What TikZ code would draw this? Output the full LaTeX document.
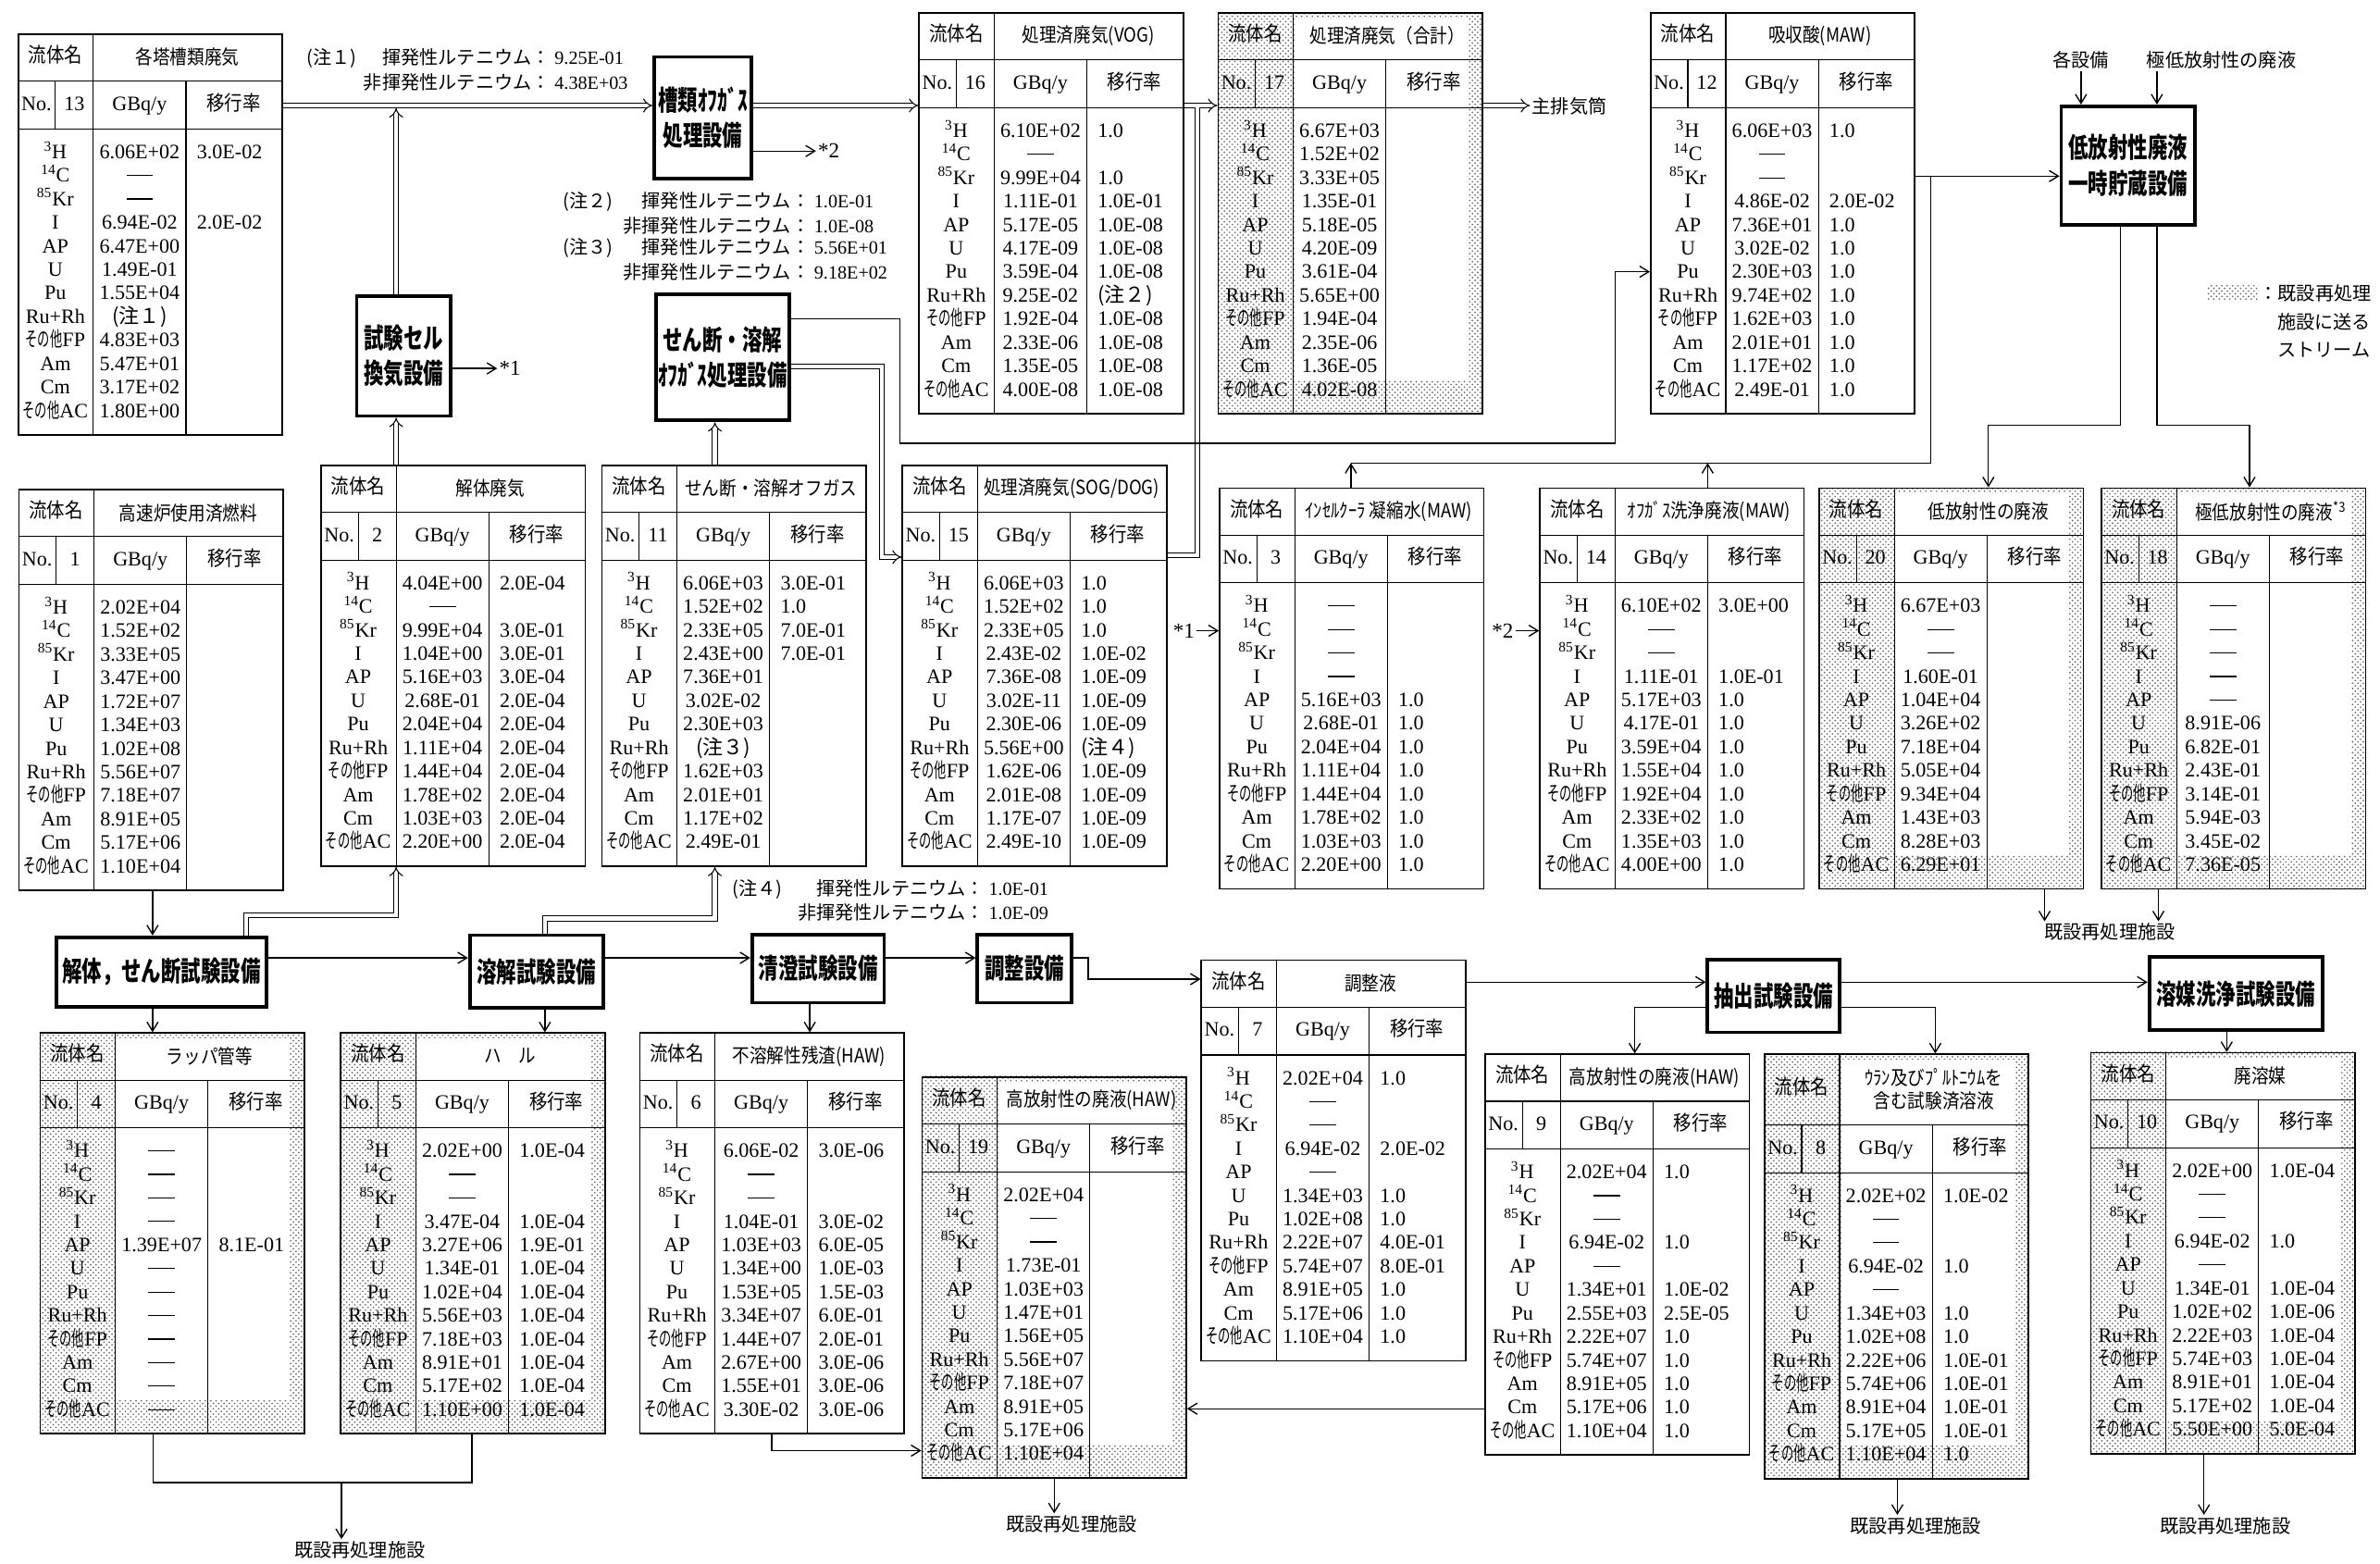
\documentclass[tikz,border=0pt]{standalone}
\usepackage{fontspec}
\setmainfont{Liberation Serif}
\newfontfamily\jpw{Noto Sans CJK JP}
\newfontfamily\jp{Noto Sans CJK JP}[FakeStretch=0.88]
\newfontfamily\jpc{Noto Sans CJK JP}[FakeStretch=0.6]
\newfontfamily\jpt{Noto Sans CJK JP}[FakeStretch=0.72]
\usetikzlibrary{positioning, arrows.meta, patterns}

\newcommand{\boxfont}{\fontsize{15.5}{20}\selectfont\jpt\bfseries}
\newcommand{\tblfont}{\fontsize{11.5}{13}\selectfont}
\newcommand{\titlefont}{\fontsize{11}{13}\selectfont\jp}
\newcommand{\notefont}{\fontsize{10.5}{13}\selectfont}
\newcommand{\dashval}{\rule[0.3em]{1.3em}{0.6pt}}
\newcommand{\nuclist}{\textsuperscript{3}H, \textsuperscript{14}C, \textsuperscript{85}Kr, I, AP, U, Pu, Ru+Rh, {\jpc その他}FP, Am, Cm, {\jpc その他}AC}

% one stream table: [look]{id}{top left}{No.}{name}{name row height}{GBq/y / ratio}
\newcommand{\flowtable}[7][plain]{%
  \begin{scope}[shift={#3}]
    \path[#1] (0,0) rectangle (174,#6+232.5);
    \path[#1 inner] (51,4) rectangle (165,#6+211);
    \draw[tblline] (0,#6) -- (174,#6) (0,#6+31.5) -- (174,#6+31.5)
      (50,0) -- (50,#6+232.5) (111,#6) -- (111,#6+232.5)
      (25,#6) -- (25,#6+31.5);
    \node[tbltext] at (25,#6/2) {\jp 流体名};
    \node[tbltitle] at (112,#6/2) {#5};
    \node[tbltext] at (12.5,#6+15.75) {No.};
    \node[tbltext] at (37.5,#6+15.75) {#4};
    \node[tbltext] at (80.5,#6+15.75) {GBq/y};
    \node[tbltext] at (142.5,#6+15.75) {\jp 移行率};
    \foreach \nuc [count=\i from 0] in \nuclist
      \node[tbltext] at (25,#6+47.5+15.5*\i) {\nuc};
    \foreach \gb/\mr [count=\i from 0] in {#7} {
      \node[tbltext] at (80.5,#6+47.5+15.5*\i) {\gb};
      \node[tbltext, anchor=west] at (118,#6+47.5+15.5*\i) {\mr};
    }
    \node[tblframe, minimum width=52.2mm, minimum height={(#6+232.5)*0.3mm},
      anchor=north west] (#2) at (0,0) {};
  \end{scope}}

\begin{document}
\begin{tikzpicture}[x=0.3mm, y=-0.3mm,
  equip/.style={draw, line width=2pt, fill=white, align=center,
    inner sep=1pt, font=\boxfont},
  tbltext/.style={inner sep=0pt, font=\tblfont, text height=1.6ex, text depth=0.3ex},
  tbltitle/.style={inner sep=0pt, font=\titlefont, align=center},
  tblframe/.style={draw, line width=0.9pt, inner sep=0pt},
  tblline/.style={line width=0.6pt},
  plain/.style={fill=white},
  plain inner/.style={},
  shaded/.style={pattern=crosshatch dots, pattern color=black!60},
  shaded inner/.style={fill=white},
  note/.style={inner sep=1pt, font=\notefont},
  star/.style={inner sep=1pt, font=\fontsize{12}{14}\selectfont},
  dbl/.style={double, double distance=2.2pt, line width=0.55pt},
  dblflow/.style={dbl, -{Implies}},
  flow/.style={line width=0.7pt, -{Straight Barb[length=1.8mm, width=2.2mm]}},
  link/.style={line width=0.7pt},
]
  \fill[white] (0,0) rectangle (1568,1030);
  \useasboundingbox (0,0) rectangle (1568,1030);

  % Top row: off-gas streams
  \flowtable{t13}{(11.5,22)}{13}{各塔槽類廃気}{31.5}{6.06E+02/3.0E-02, \dashval/{}, \dashval/{}, 6.94E-02/2.0E-02, 6.47E+00/{}, 1.49E-01/{}, 1.55E+04/{}, {\jpw (注１)}/{}, 4.83E+03/{}, 5.47E+01/{}, 3.17E+02/{}, 1.80E+00/{}}
  \flowtable{t16}{(605,8)}{16}{処理済廃気(VOG)}{31.5}{6.10E+02/1.0, \dashval/{}, 9.99E+04/1.0, 1.11E-01/1.0E-01, 5.17E-05/1.0E-08, 4.17E-09/1.0E-08, 3.59E-04/1.0E-08, 9.25E-02/{\jpw (注２)}, 1.92E-04/1.0E-08, 2.33E-06/1.0E-08, 1.35E-05/1.0E-08, 4.00E-08/1.0E-08}
  \flowtable[shaded]{t17}{(802,8)}{17}{処理済廃気（合計）}{31.5}{6.67E+03/{}, 1.52E+02/{}, 3.33E+05/{}, 1.35E-01/{}, 5.18E-05/{}, 4.20E-09/{}, 3.61E-04/{}, 5.65E+00/{}, 1.94E-04/{}, 2.35E-06/{}, 1.36E-05/{}, 4.02E-08/{}}
  \flowtable{t12}{(1087,8)}{12}{吸収酸(MAW)}{31.5}{6.06E+03/1.0, \dashval/{}, \dashval/{}, 4.86E-02/2.0E-02, 7.36E+01/1.0, 3.02E-02/1.0, 2.30E+03/1.0, 9.74E+02/1.0, 1.62E+03/1.0, 2.01E+01/1.0, 1.17E+02/1.0, 2.49E-01/1.0}

  % Middle row
  \flowtable{t1}{(12,322)}{1}{高速炉使用済燃料}{31.5}{2.02E+04/{}, 1.52E+02/{}, 3.33E+05/{}, 3.47E+00/{}, 1.72E+07/{}, 1.34E+03/{}, 1.02E+08/{}, 5.56E+07/{}, 7.18E+07/{}, 8.91E+05/{}, 5.17E+06/{}, 1.10E+04/{}}
  \flowtable{t2}{(211,306)}{2}{解体廃気}{31.5}{4.04E+00/2.0E-04, \dashval/{}, 9.99E+04/3.0E-01, 1.04E+00/3.0E-01, 5.16E+03/3.0E-04, 2.68E-01/2.0E-04, 2.04E+04/2.0E-04, 1.11E+04/2.0E-04, 1.44E+04/2.0E-04, 1.78E+02/2.0E-04, 1.03E+03/2.0E-04, 2.20E+00/2.0E-04}
  \flowtable{t11}{(396,306)}{11}{せん断・溶解オフガス}{31.5}{6.06E+03/3.0E-01, 1.52E+02/1.0, 2.33E+05/7.0E-01, 2.43E+00/7.0E-01, 7.36E+01/{}, 3.02E-02/{}, 2.30E+03/{}, {\jpw (注３)}/{}, 1.62E+03/{}, 2.01E+01/{}, 1.17E+02/{}, 2.49E-01/{}}
  \flowtable{t15}{(594,306)}{15}{処理済廃気(SOG/DOG)}{31.5}{6.06E+03/1.0, 1.52E+02/1.0, 2.33E+05/1.0, 2.43E-02/1.0E-02, 7.36E-08/1.0E-09, 3.02E-11/1.0E-09, 2.30E-06/1.0E-09, 5.56E+00/{\jpw (注４)}, 1.62E-06/1.0E-09, 2.01E-08/1.0E-09, 1.17E-07/1.0E-09, 2.49E-10/1.0E-09}
  \flowtable{t3}{(803,321)}{3}{ｲﾝｾﾙｸｰﾗ 凝縮水(MAW)}{31.5}{\dashval/{}, \dashval/{}, \dashval/{}, \dashval/{}, 5.16E+03/1.0, 2.68E-01/1.0, 2.04E+04/1.0, 1.11E+04/1.0, 1.44E+04/1.0, 1.78E+02/1.0, 1.03E+03/1.0, 2.20E+00/1.0}
  \flowtable{t14}{(1014,321)}{14}{ｵﾌｶﾞｽ洗浄廃液(MAW)}{31.5}{6.10E+02/3.0E+00, \dashval/{}, \dashval/{}, 1.11E-01/1.0E-01, 5.17E+03/1.0, 4.17E-01/1.0, 3.59E+04/1.0, 1.55E+04/1.0, 1.92E+04/1.0, 2.33E+02/1.0, 1.35E+03/1.0, 4.00E+00/1.0}
  \flowtable[shaded]{t20}{(1198,321)}{20}{低放射性の廃液}{31.5}{6.67E+03/{}, \dashval/{}, \dashval/{}, 1.60E-01/{}, 1.04E+04/{}, 3.26E+02/{}, 7.18E+04/{}, 5.05E+04/{}, 9.34E+04/{}, 1.43E+03/{}, 8.28E+03/{}, 6.29E+01/{}}
  \flowtable[shaded]{t18}{(1384,321)}{18}{極低放射性の廃液\textsuperscript{*3}}{31.5}{\dashval/{}, \dashval/{}, \dashval/{}, \dashval/{}, \dashval/{}, 8.91E-06/{}, 6.82E-01/{}, 2.43E-01/{}, 3.14E-01/{}, 5.94E-03/{}, 3.45E-02/{}, 7.36E-05/{}}

  % Bottom row
  \flowtable[shaded]{t4}{(26,680)}{4}{ラッパ管等}{31.5}{\dashval/{}, \dashval/{}, \dashval/{}, \dashval/{}, 1.39E+07/8.1E-01, \dashval/{}, \dashval/{}, \dashval/{}, \dashval/{}, \dashval/{}, \dashval/{}, \dashval/{}}
  \flowtable[shaded]{t5}{(224,680)}{5}{ハ　ル}{31.5}{2.02E+00/1.0E-04, \dashval/{}, \dashval/{}, 3.47E-04/1.0E-04, 3.27E+06/1.9E-01, 1.34E-01/1.0E-04, 1.02E+04/1.0E-04, 5.56E+03/1.0E-04, 7.18E+03/1.0E-04, 8.91E+01/1.0E-04, 5.17E+02/1.0E-04, 1.10E+00/1.0E-04}
  \flowtable{t6}{(421,680)}{6}{不溶解性残渣(HAW)}{31.5}{6.06E-02/3.0E-06, \dashval/{}, \dashval/{}, 1.04E-01/3.0E-02, 1.03E+03/6.0E-05, 1.34E+00/1.0E-03, 1.53E+05/1.5E-03, 3.34E+07/6.0E-01, 1.44E+07/2.0E-01, 2.67E+00/3.0E-06, 1.55E+01/3.0E-06, 3.30E-02/3.0E-06}
  \flowtable[shaded]{t19}{(607,709)}{19}{高放射性の廃液(HAW)}{31.5}{2.02E+04/{}, \dashval/{}, \dashval/{}, 1.73E-01/{}, 1.03E+03/{}, 1.47E+01/{}, 1.56E+05/{}, 5.56E+07/{}, 7.18E+07/{}, 8.91E+05/{}, 5.17E+06/{}, 1.10E+04/{}}
  \flowtable{t7}{(791,632)}{7}{調整液}{31.5}{2.02E+04/1.0, \dashval/{}, \dashval/{}, 6.94E-02/2.0E-02, \dashval/{}, 1.34E+03/1.0, 1.02E+08/1.0, 2.22E+07/4.0E-01, 5.74E+07/8.0E-01, 8.91E+05/1.0, 5.17E+06/1.0, 1.10E+04/1.0}
  \flowtable{t9}{(978,694)}{9}{高放射性の廃液(HAW)}{31.5}{2.02E+04/1.0, \dashval/{}, \dashval/{}, 6.94E-02/1.0, \dashval/{}, 1.34E+01/1.0E-02, 2.55E+03/2.5E-05, 2.22E+07/1.0, 5.74E+07/1.0, 8.91E+05/1.0, 5.17E+06/1.0, 1.10E+04/1.0}
  \flowtable[shaded]{t8}{(1162,694)}{8}{ｳﾗﾝ及びﾌﾟﾙﾄﾆｳﾑを\\含む試験済溶液}{47}{2.02E+02/1.0E-02, \dashval/{}, \dashval/{}, 6.94E-02/1.0, \dashval/{}, 1.34E+03/1.0, 1.02E+08/1.0, 2.22E+06/1.0E-01, 5.74E+06/1.0E-01, 8.91E+04/1.0E-01, 5.17E+05/1.0E-01, 1.10E+04/1.0}
  \flowtable[shaded]{t10}{(1377,693)}{10}{廃溶媒}{31.5}{2.02E+00/1.0E-04, \dashval/{}, \dashval/{}, 6.94E-02/1.0, \dashval/{}, 1.34E-01/1.0E-04, 1.02E+02/1.0E-06, 2.22E+03/1.0E-04, 5.74E+03/1.0E-04, 8.91E+01/1.0E-04, 5.17E+02/1.0E-04, 5.50E+00/5.0E-04}

  % Equipment
  \node[equip, minimum width=19.2mm, minimum height=24mm] (tankog) at (463,77.5) {槽類ｵﾌｶﾞｽ\\処理設備};
  \node[equip, minimum width=18.6mm, minimum height=23.7mm] (cellvent) at (266,234.5) {試験セル\\換気設備};
  \node[equip, minimum width=26.4mm, minimum height=24.9mm] (sdog) at (476,235.5) {せん断・溶解\\ｵﾌｶﾞｽ処理設備};
  \node[equip, minimum width=26.4mm, minimum height=23.4mm] (lwstore) at (1402,109) {低放射性廃液\\一時貯蔵設備};
  \node[equip, minimum width=41.6mm, minimum height=13.8mm] (shear) at (106.3,640.4) {解体，せん断試験設備};
  \node[equip, minimum width=26.4mm, minimum height=14.4mm] (dissolve) at (353.5,640) {溶解試験設備};
  \node[equip, minimum width=26.1mm, minimum height=13.5mm] (clarify) at (539,638) {清澄試験設備};
  \node[equip, minimum width=18.6mm, minimum height=13.5mm] (adjust) at (675,638) {調整設備};
  \node[equip, minimum width=26.1mm, minimum height=14.4mm] (extract) at (1168.5,656) {抽出試験設備};
  \node[equip, minimum width=34.2mm, minimum height=14.4mm] (solwash) at (1473,654.6) {溶媒洗浄試験設備};

  % Ruthenium notes
  \node[note, anchor=base] (n1) at (218.5,42.6) {\jpw (注１)};
  \node[note, anchor=base east] (n1a) at (364,42.6) {\jpw 揮発性ルテニウム：};
  \node[note, anchor=base west] (n1av) at (364,42.6) {9.25E-01};
  \node[note, anchor=base east] (n1b) at (364,58.8) {\jpw 非揮発性ルテニウム：};
  \node[note, anchor=base west] (n1bv) at (364,58.8) {4.38E+03};
  \node[note, anchor=base] (n2) at (387.5,137) {\jpw (注２)};
  \node[note, anchor=base east] (n2a) at (535,137) {\jpw 揮発性ルテニウム：};
  \node[note, anchor=base west] (n2av) at (535,137) {1.0E-01};
  \node[note, anchor=base east] (n2b) at (535,153.2) {\jpw 非揮発性ルテニウム：};
  \node[note, anchor=base west] (n2bv) at (535,153.2) {1.0E-08};
  \node[note, anchor=base] (n3) at (387.5,167.4) {\jpw (注３)};
  \node[note, anchor=base east] (n3a) at (535,167.4) {\jpw 揮発性ルテニウム：};
  \node[note, anchor=base west] (n3av) at (535,167.4) {5.56E+01};
  \node[note, anchor=base east] (n3b) at (535,183.6) {\jpw 非揮発性ルテニウム：};
  \node[note, anchor=base west] (n3bv) at (535,183.6) {9.18E+02};
  \node[note, anchor=base] (n4) at (499,589.7) {\jpw (注４)};
  \node[note, anchor=base east] (n4a) at (650,589.7) {\jpw 揮発性ルテニウム：};
  \node[note, anchor=base west] (n4av) at (650,589.7) {1.0E-01};
  \node[note, anchor=base east] (n4b) at (650,605.7) {\jpw 非揮発性ルテニウム：};
  \node[note, anchor=base west] (n4bv) at (650,605.7) {1.0E-09};

  % Legend
  \path[shaded] (1454,188) rectangle (1488,197);
  \node[note, anchor=west] (leg1) at (1487,193) {\jpw ：既設再処理};
  \node[note, anchor=west] (leg2) at (1499,212) {\jpw 施設に送る};
  \node[note, anchor=west] (leg3) at (1499,230.5) {\jpw ストリーム};

  % Off-gas lines
  \coordinate (hdr) at (0,69.5);
  \coordinate (cv) at (261,0);
  \coordinate (sx) at (471,0);
  \node[note] (stack) at (1034,70) {\jpw 主排気筒};
  \draw[dblflow] (t13.east |- hdr) -- (tankog.west |- hdr);
  \draw[dblflow, shorten >=1.5pt] (cellvent.north -| cv) -- (cv |- hdr);
  \draw[dblflow] (tankog.east |- hdr) -- (t16.west |- hdr);
  \draw[dblflow] (t16.east |- hdr) -- (t17.west |- hdr);
  \draw[dblflow] (t17.east |- hdr) -- (stack.west |- hdr);
  \node[star] (star2) at (546,99.5) {*2};
  \draw[flow] (tankog.east |- star2) -- (star2.west);
  \node[star] (star1) at (336,242.7) {*1};
  \draw[flow] (cellvent.east |- star1) -- (star1.west);
  \draw[dblflow] (t2.north -| cv) -- (cellvent.south -| cv);
  \draw[dblflow] (t11.north -| sx) -- (sdog.south -| sx);

  % SOG/DOG to T15, then up to the stack line
  \coordinate (d1) at (581,241.6);
  \coordinate (d2) at (0,367);
  \coordinate (d3) at (789,365.6);
  \draw[dblflow] (sdog.east |- d1) -| (d1 |- d2) -- (t15.west |- d2);
  \draw[dbl] (t15.east |- d3) -- (d3) -- (d3 |- 0,71);

  % Absorber acid (MAW)
  \coordinate (m1) at (593,210);
  \coordinate (m2) at (1064,292);
  \coordinate (m3) at (0,179);
  \draw[flow] (sdog.east |- m1) -- (m1) |- (m2) |- (t12.west |- m3);

  % Low-level liquid waste storage
  \coordinate (g1) at (1272,116);
  \coordinate (h1) at (890,305);
  \coordinate (h2) at (1125,305);
  \draw[flow] (t12.east |- g1) -- (lwstore.west |- g1);
  \draw[link] (h1) -| (g1);
  \draw[flow] (t3.north -| h1) -- (h1);
  \draw[flow] (t14.north -| h2) -- (h2);
  \node[note] (src1) at (1371,39.6) {\jpw 各設備};
  \node[note] (src2) at (1463.5,39.6) {\jpw 極低放射性の廃液};
  \coordinate (k0) at (1397,0);
  \coordinate (k1) at (1421,0);
  \coordinate (l1) at (1310,280);
  \coordinate (l2) at (1482,280);
  \draw[flow] (src1.south) -- (lwstore.north -| src1.south);
  \draw[flow] (src2.south -| k1) -- (lwstore.north -| k1);
  \draw[flow] (lwstore.south -| k0) |- (l1) -- (t20.north -| l1);
  \draw[flow] (lwstore.south -| k1) |- (l2) -- (t18.north -| l2);
  \node[note] (ex5) at (1390,614) {\jpw 既設再処理施設};
  \coordinate (p1) at (1347,0);
  \coordinate (p2) at (1422,0);
  \draw[flow] (t20.south -| p1) -- (ex5.north -| p1);
  \draw[flow] (t18.south -| p2) -- (ex5.north -| p2);
  \node[star] (in1) at (780,415.5) {*1};
  \draw[flow] (in1.east) -- (in1.east -| t3.west);
  \node[star] (in2) at (990,415.5) {*2};
  \draw[flow] (in2.east) -- (in2.east -| t14.west);

  % Main process line
  \coordinate (c1) at (100.5,0);
  \coordinate (r1) at (0,631);
  \draw[flow] (t1.south -| c1) -- (shear.north -| c1);
  \draw[flow] (shear.south -| c1) -- (t4.north -| c1);
  \draw[flow] (shear.east |- r1) -- (dissolve.west |- r1);
  \draw[flow] (dissolve.east |- r1) -- (clarify.west |- r1);
  \draw[flow] (clarify.east |- r1) -- (adjust.west |- r1);
  \coordinate (s1) at (162,603);
  \coordinate (s2) at (359,605);
  \draw[dblflow] (shear.north -| s1) -- (s1) -| (t2.south -| cv);
  \draw[dblflow] (dissolve.north -| s2) -- (s2) -| (t11.south -| sx);
  \draw[flow] (dissolve.south -| s2) -- (t5.north -| s2);
  \coordinate (c2) at (533.5,0);
  \draw[flow] (clarify.south -| c2) -- (t6.north -| c2);
  \coordinate (a2) at (717,645);
  \draw[flow] (adjust.east |- r1) -| (a2) -- (t7.west |- a2);
  \coordinate (b1) at (508.5,955.6);
  \draw[flow] (t6.south -| b1) |- (t19.west |- b1);
  \coordinate (c3) at (0,928);
  \draw[flow] (t9.west |- c3) -- (t19.east |- c3);
  \coordinate (e1) at (0,647);
  \draw[flow] (t7.east |- e1) -- (extract.west |- e1);
  \draw[flow] (extract.east |- e1) -- (solwash.west |- e1);
  \coordinate (e2) at (1077,663.5);
  \coordinate (e3) at (1275,663.5);
  \draw[flow] (extract.west |- e2) -| (t9.north -| e2);
  \draw[flow] (extract.east |- e3) -| (t8.north -| e3);
  \coordinate (c4) at (1467,0);
  \draw[flow] (solwash.south -| c4) -- (t10.north -| c4);

  % To the existing reprocessing plant
  \node[note] (ex1) at (237,1021) {\jpw 既設再処理施設};
  \coordinate (f1) at (101,976.6);
  \coordinate (f2) at (311,976.6);
  \coordinate (f3) at (225,976.6);
  \draw[link] (t4.south -| f1) |- (f2) -- (t5.south -| f2);
  \draw[flow] (f3) -- (ex1.north -| f3);
  \node[note] (ex2) at (706,1004) {\jpw 既設再処理施設};
  \draw[flow] (t19.south) -- (t19.south |- ex2.north);
  \node[note] (ex3) at (1262,1005) {\jpw 既設再処理施設};
  \coordinate (c5) at (1250,0);
  \draw[flow] (t8.south -| c5) -- (ex3.north -| c5);
  \node[note] (ex4) at (1466,1005) {\jpw 既設再処理施設};
  \coordinate (c6) at (1452,0);
  \draw[flow] (t10.south -| c6) -- (ex4.north -| c6);
\end{tikzpicture}
\end{document}
